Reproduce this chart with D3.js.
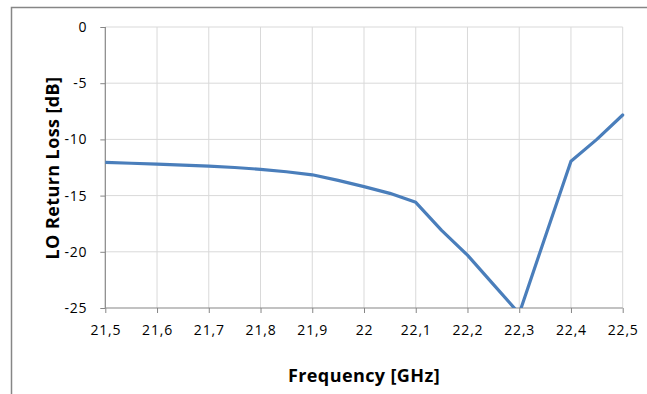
<!DOCTYPE html>
<html>
<head>
<meta charset="utf-8">
<script src="https://cdn.jsdelivr.net/npm/d3@7"></script>
<style>
  body { margin: 0; background: #fff; }
  svg { display: block; font-family: "Open Sans", sans-serif; }
  .grid line { stroke: #d9d9d9; stroke-width: 1; }
  .title { font-weight: bold; font-size: 18px; letter-spacing: 0.4px; fill: #000; }
</style>
</head>
<body>
<div id="chart"></div>
<script>
// LO return loss vs frequency
const freqs = [21.5, 21.55, 21.6, 21.65, 21.7, 21.75, 21.8, 21.85, 21.9, 21.95,
               22.0, 22.05, 22.1, 22.15, 22.2, 22.25, 22.3, 22.35, 22.4, 22.45, 22.5];
const lossDb = [-12.05, -12.12, -12.2, -12.28, -12.37, -12.5, -12.66, -12.88, -13.15, -13.65,
                -14.2, -14.8, -15.6, -18.1, -20.3, -22.9, -25.5, -18.7, -11.95, -10.0, -7.83];
const xTicks = [21.5, 21.6, 21.7, 21.8, 21.9, 22.0, 22.1, 22.2, 22.3, 22.4, 22.5];
const yTicks = [0, -5, -10, -15, -20, -25];

const width = 647, height = 394;
const plot = { left: 105.3, right: 622.7, top: 27, bottom: 308 };

const svg = d3.select('#chart').append('svg')
  .attr('width', width).attr('height', height);

// outer chart frame (only top/left visible)
svg.append('path')
  .attr('d', 'M11.5,' + height + 'V7.5H' + (width + 2))
  .attr('fill', 'none').attr('stroke', '#868686').attr('stroke-width', 1.5);

const x = d3.scaleLinear().domain([21.5, 22.5]).range([plot.left, plot.right]);
const y = d3.scaleLinear().domain([-25, 0]).range([plot.bottom, plot.top]);

// gridlines
const grid = svg.append('g').attr('class', 'grid');
grid.selectAll('line.v').data(xTicks.slice(1)).enter().append('line').attr('class', 'v')
  .attr('x1', d => x(d)).attr('x2', d => x(d)).attr('y1', plot.top).attr('y2', plot.bottom);
grid.selectAll('line.h').data(yTicks.slice(0, -1)).enter().append('line').attr('class', 'h')
  .attr('x1', plot.left).attr('x2', plot.right).attr('y1', d => y(d)).attr('y2', d => y(d));

// axes (plain hyphen minus, comma decimals)
const fmt = d => String(+d.toFixed(1)).replace('.', ',');
const xAxis = svg.append('g')
  .attr('transform', 'translate(0,' + plot.bottom + ')')
  .call(d3.axisBottom(x).tickValues(xTicks).tickFormat(fmt).tickSize(5).tickPadding(12));
const yAxis = svg.append('g')
  .attr('transform', 'translate(' + plot.left + ',0)')
  .call(d3.axisLeft(y).tickValues(yTicks).tickFormat(d => String(d)).tickSize(5).tickPadding(13));
[xAxis, yAxis].forEach(a => {
  a.select('.domain').attr('stroke', '#868686').attr('stroke-width', 1.2);
  a.selectAll('.tick line').attr('stroke', '#868686');
  a.selectAll('text').attr('font-family', '"Open Sans", sans-serif').attr('font-size', 14)
    .attr('fill', '#000').attr('letter-spacing', '0.8px');
});
xAxis.select('.domain').attr('d', 'M' + plot.left + ',0H' + plot.right);
yAxis.select('.domain').attr('d', 'M0,' + plot.top + 'V' + plot.bottom);

// clip to plot area
svg.append('clipPath').attr('id', 'clip').append('rect')
  .attr('x', plot.left).attr('y', plot.top - 5)
  .attr('width', plot.right - plot.left + 5).attr('height', plot.bottom - plot.top + 5);

const line = d3.line().x((d, i) => x(freqs[i])).y(d => y(d));
svg.append('path').datum(lossDb)
  .attr('clip-path', 'url(#clip)')
  .attr('d', line)
  .attr('fill', 'none').attr('stroke', '#4a7ebb').attr('stroke-width', 3.2)
  .attr('stroke-linejoin', 'round').attr('stroke-linecap', 'round');

// titles
svg.append('text').attr('class', 'title')
  .attr('x', 364).attr('y', 382).attr('text-anchor', 'middle')
  .text('Frequency [GHz]');
svg.append('text').attr('class', 'title')
  .attr('transform', 'translate(59,168) rotate(-90)').attr('text-anchor', 'middle')
  .text('LO Return Loss [dB]');
</script>
</body>
</html>
